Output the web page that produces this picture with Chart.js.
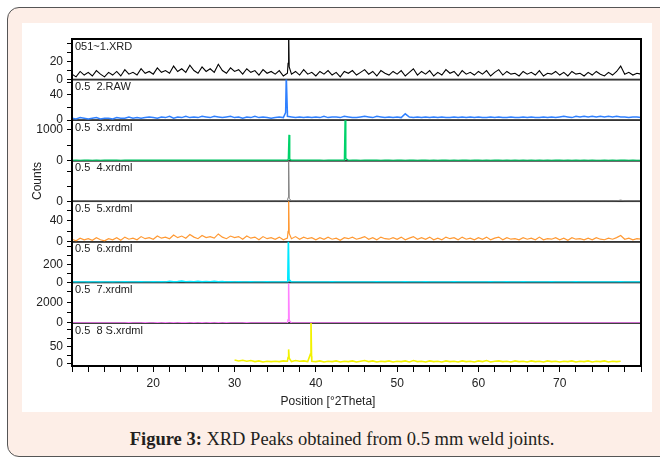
<!DOCTYPE html>
<html lang="en">
<head>
  <meta charset="UTF-8">
  <title>XRD Peaks</title>
  <style>
    body {
      margin: 0;
      background: #fff;
      width: 660px;
      height: 460px;
      overflow: hidden;
      position: relative;
      font-family: "Liberation Sans", Arial, sans-serif;
    }
    .card {
      position: absolute;
      left: 7px;
      top: 7px;
      width: 670px;
      height: 450px;
      box-sizing: border-box;
      border: 1.5px solid #555;
      border-radius: 12px;
      background: #fdeee7;
    }
    .plot {
      position: absolute;
      left: 22px;
      top: 23px;
      width: 630px;
      height: 389px;
      background: #fff;
    }
    .caption {
      position: absolute;
      left: 7px;
      width: 670px;
      top: 429px;
      text-align: center;
      font-family: "Liberation Serif", "DejaVu Serif", serif;
      font-size: 18.5px;
      color: #231f20;
    }
  </style>
</head>
<body>
  <div class="card"></div>
  <div class="plot"><canvas id="xrdChart"></canvas></div>
  <div class="caption"><b>Figure 3:</b> XRD Peaks obtained from 0.5 mm weld joints.</div>

  <script src="https://cdn.jsdelivr.net/npm/chart.js"></script>
  <script>
    // sample names shown in each panel
    const sampleNames = ['051~1.XRD', '0.5  2.RAW', '0.5  3.xrdml', '0.5  4.xrdml',
                         '0.5  5.xrdml', '0.5  6.xrdml', '0.5  7.xrdml', '0.5  8 S.xrdml'];

    // position grid [°2Theta], 0.5 step
    const angles = [
      10, 10.5, 11, 11.5, 12, 12.5, 13, 13.5, 14, 14.5,
      15, 15.5, 16, 16.5, 17, 17.5, 18, 18.5, 19, 19.5,
      20, 20.5, 21, 21.5, 22, 22.5, 23, 23.5, 24, 24.5,
      25, 25.5, 26, 26.5, 27, 27.5, 28, 28.5, 29, 29.5,
      30, 30.5, 31, 31.5, 32, 32.5, 33, 33.5, 34, 34.5,
      35, 35.5, 36, 36.5, 37, 37.5, 38, 38.5, 39, 39.5,
      40, 40.5, 41, 41.5, 42, 42.5, 43, 43.5, 44, 44.5,
      45, 45.5, 46, 46.5, 47, 47.5, 48, 48.5, 49, 49.5,
      50, 50.5, 51, 51.5, 52, 52.5, 53, 53.5, 54, 54.5,
      55, 55.5, 56, 56.5, 57, 57.5, 58, 58.5, 59, 59.5,
      60, 60.5, 61, 61.5, 62, 62.5, 63, 63.5, 64, 64.5,
      65, 65.5, 66, 66.5, 67, 67.5, 68, 68.5, 69, 69.5,
      70, 70.5, 71, 71.5, 72, 72.5, 73, 73.5, 74, 74.5,
      75, 75.5, 76, 76.5, 77, 77.5, 78, 78.5, 79, 79.5,
      80
    ];

    // background counts on the grid above
    const counts1 = [
      6, 3, 9, 5, 8, 4, 10, 6, 3, 8,
      5, 9, 4, 11, 6, 8, 5, 12, 7, 9,
      6, 13, 8, 10, 7, 15, 9, 12, 8, 16,
      10, 7, 14, 9, 12, 8, 17, 10, 7, 13,
      9, 11, 6, 12, 8, 10, 5, 11, 7, 9,
      6, 10, 4, 7, 6, 9, 5, 11, 6, 8,
      4, 9, 6, 10, 5, 8, 3, 9, 7, 10,
      5, 8, 11, 6, 9, 4, 10, 7, 5, 9,
      6, 10, 4, 8, 12, 5, 9, 6, 10, 4,
      8, 5, 11, 7, 9, 4, 10, 6, 8, 5,
      9, 6, 10, 4, 8, 11, 5, 9, 6, 7,
      4, 9, 6, 8, 5, 10, 4, 7, 6, 9,
      5, 8, 4, 9, 6, 7, 4, 8, 5, 9,
      6, 4, 8, 5, 9, 15, 6, 8, 5, 7,
      6
    ];
    const counts2 = [
      3, 2, 4, 3, 2, 3, 4, 2, 3, 3,
      2, 4, 3, 3, 5, 3, 4, 3, 4, 5,
      4, 3, 5, 4, 6, 3, 5, 4, 6, 4,
      5, 4, 6, 5, 4, 6, 5, 4, 5, 6,
      4, 5, 3, 5, 4, 6, 4, 5, 4, 3,
      4, 5, 4, 6, 5, 4, 5, 4, 5, 4,
      5, 4, 6, 4, 5, 5, 4, 6, 5, 4,
      4, 5, 6, 5, 4, 6, 5, 4, 5, 4,
      5, 4, 10, 5, 4, 5, 4, 5, 4, 5,
      4, 5, 4, 4, 5, 4, 5, 4, 5, 4,
      5, 4, 4, 5, 4, 5, 4, 4, 5, 4,
      4, 5, 4, 5, 4, 4, 5, 4, 5, 4,
      5, 6, 5, 4, 6, 5, 6, 5, 6, 5,
      6, 5, 6, 5, 6, 5, 5, 4, 5, 5,
      4
    ];
    const counts3 = [
      10, 12, 9, 11, 13, 10, 12, 9, 11, 12,
      11, 13, 10, 12, 14, 11, 13, 12, 14, 13,
      12, 14, 13, 15, 12, 16, 13, 15, 14, 12,
      14, 13, 15, 12, 14, 13, 16, 12, 14, 13,
      12, 13, 11, 14, 12, 13, 11, 12, 13, 11,
      12, 11, 13, 12, 11, 12, 13, 11, 12, 11,
      11, 12, 10, 12, 11, 13, 11, 12, 10, 11,
      12, 10, 11, 13, 11, 12, 10, 11, 12, 10,
      11, 12, 10, 11, 12, 10, 11, 12, 10, 11,
      10, 11, 12, 10, 11, 10, 12, 11, 10, 11,
      12, 10, 11, 10, 11, 12, 10, 11, 10, 11,
      10, 11, 10, 12, 10, 11, 10, 11, 10, 12,
      11, 10, 11, 10, 12, 10, 11, 10, 11, 10,
      10, 11, 10, 11, 10, 12, 11, 10, 11, 10,
      10
    ];
    const counts4 = [
      2, 1, 2, 1, 2, 2, 1, 2, 1, 2,
      1, 2, 2, 1, 2, 1, 2, 2, 1, 2,
      2, 1, 2, 2, 1, 2, 2, 1, 2, 2,
      1, 2, 2, 1, 2, 1, 2, 2, 1, 2,
      2, 1, 2, 1, 2, 2, 1, 2, 1, 2,
      1, 2, 1, 2, 1, 2, 1, 2, 2, 1,
      2, 1, 2, 1, 2, 1, 2, 1, 2, 1,
      2, 2, 1, 2, 1, 2, 1, 2, 1, 2,
      1, 2, 1, 2, 2, 1, 2, 1, 2, 1,
      2, 1, 2, 1, 2, 1, 2, 1, 2, 1,
      1, 2, 1, 2, 1, 2, 1, 2, 1, 2,
      2, 1, 2, 1, 2, 1, 2, 1, 2, 1,
      1, 2, 1, 2, 1, 2, 1, 2, 1, 2,
      2, 1, 2, 1, 3, 8, 2, 1, 2, 1,
      2
    ];
    const counts5 = [
      5, 2, 7, 4, 6, 3, 8, 4, 2, 6,
      4, 8, 3, 9, 5, 7, 4, 10, 6, 8,
      5, 11, 7, 9, 6, 13, 8, 11, 7, 14,
      9, 6, 12, 8, 10, 7, 15, 9, 6, 11,
      8, 10, 5, 11, 7, 9, 4, 10, 6, 8,
      5, 9, 4, 7, 6, 10, 5, 9, 6, 8,
      4, 8, 5, 9, 5, 7, 3, 8, 6, 9,
      5, 7, 10, 5, 8, 4, 9, 6, 5, 8,
      5, 9, 4, 7, 10, 5, 8, 5, 9, 4,
      7, 4, 9, 6, 8, 4, 9, 5, 7, 4,
      8, 5, 9, 4, 7, 9, 4, 8, 5, 6,
      4, 8, 5, 7, 4, 9, 4, 6, 5, 8,
      4, 7, 3, 8, 5, 6, 4, 7, 4, 8,
      5, 4, 7, 5, 8, 12, 5, 7, 4, 6,
      5
    ];
    const counts6 = [
      4, 3, 5, 4, 3, 4, 5, 3, 4, 4,
      3, 5, 4, 6, 4, 5, 4, 6, 5, 4,
      6, 4, 8, 5, 12, 6, 9, 14, 7, 10,
      8, 12, 6, 10, 7, 11, 6, 9, 5, 7,
      5, 6, 4, 5, 6, 4, 5, 4, 6, 5,
      4, 5, 4, 6, 5, 4, 5, 4, 5, 4,
      5, 4, 5, 4, 6, 4, 5, 4, 5, 4,
      4, 5, 4, 5, 4, 6, 4, 5, 4, 5,
      5, 4, 6, 4, 5, 4, 5, 6, 4, 5,
      4, 5, 4, 5, 6, 4, 5, 4, 5, 4,
      5, 4, 5, 6, 4, 5, 4, 6, 5, 4,
      4, 6, 5, 4, 5, 4, 5, 4, 6, 5,
      5, 4, 5, 4, 6, 5, 4, 5, 4, 5,
      4, 5, 4, 5, 4, 7, 5, 4, 5, 4,
      4
    ];
    const counts7 = [
      8, 10, 7, 9, 11, 8, 10, 7, 9, 10,
      9, 11, 8, 10, 12, 9, 11, 10, 12, 11,
      10, 12, 11, 13, 10, 14, 11, 13, 12, 10,
      12, 11, 13, 10, 12, 11, 14, 10, 12, 11,
      10, 11, 9, 12, 10, 11, 9, 10, 11, 9,
      10, 9, 11, 10, 9, 10, 11, 9, 10, 9,
      9, 10, 8, 10, 9, 11, 9, 10, 8, 9,
      10, 8, 9, 11, 9, 10, 8, 9, 10, 8,
      9, 10, 8, 9, 10, 8, 9, 10, 8, 9,
      8, 9, 10, 8, 9, 8, 10, 9, 8, 9,
      10, 8, 9, 8, 9, 10, 8, 9, 8, 9,
      8, 9, 8, 10, 8, 9, 8, 9, 8, 10,
      9, 8, 9, 8, 10, 8, 9, 8, 9, 8,
      8, 9, 8, 9, 8, 10, 9, 8, 9, 8,
      8
    ];
    const counts8 = [
      null, null, null, null, null, null, null, null, null, null,
      null, null, null, null, null, null, null, null, null, null,
      null, null, null, null, null, null, null, null, null, null,
      null, null, null, null, null, null, null, null, null, null,
      11, 8, 10, 7, 9, 6, 8, 5, 7, 6,
      7, 6, 8, 7, 6, 9, 7, 8, 6, 7,
      6, 8, 5, 7, 6, 8, 5, 7, 6, 8,
      5, 7, 9, 6, 8, 5, 7, 6, 8, 5,
      7, 6, 8, 5, 9, 6, 7, 5, 8, 6,
      7, 5, 8, 6, 7, 5, 8, 6, 7, 5,
      8, 6, 9, 5, 7, 8, 6, 7, 5, 8,
      6, 7, 5, 8, 6, 7, 5, 8, 6, 7,
      5, 7, 6, 8, 5, 7, 6, 8, 5, 7,
      6, 8, 5, 7, 6, 7, null, null, null, null,
      null
    ];

    // narrow reflections [position, counts]
    const peaks1 = [[36.58, 18], [36.65, 60], [36.72, 14]];
    const peaks2 = [[36.28, 12], [36.36, 72], [36.44, 72], [36.49, 15]];
    const peaks3 = [[36.62, 60], [36.7, 840], [36.78, 50], [43.52, 90], [43.6, 1340], [43.68, 70]];
    const peaks4 = [[36.58, 25], [36.65, 300], [36.72, 20]];
    const peaks5 = [[36.58, 20], [36.65, 90], [36.72, 16]];
    const peaks6 = [[36.55, 40], [36.62, 470], [36.7, 30]];
    const peaks7 = [[36.58, 300], [36.65, 3800], [36.72, 250]];
    const peaks8 = [[36.58, 18], [36.65, 42], [36.72, 16], [39.33, 28], [39.4, 130], [39.47, 22]];

    // y-axis ranges, tick marks and labelled ticks, top panel first
    const yMin = [0, 0, 0, 0, 0, 0, 0, -7];
    const yMax = [45, 64, 1320, 270, 77, 446, 3900, 120];
    const yTicks = [
      [0, 10, 20, 30, 40], [0, 20, 40, 60], [0, 500, 1000], [0, 100, 200],
      [0, 20, 40, 60], [0, 100, 200, 300, 400], [0, 1000, 2000, 3000], [0, 25, 50, 75, 100]
    ];
    const yTickLabels = [[0, 20], [0, 40], [0, 1000], [0], [0, 40], [0, 200], [0, 2000], [0, 50]];
    const xTickLabels = [20, 30, 40, 50, 60, 70];

    const lineColors = ['#000000', '#2f80ff', '#00d26a', '#808080', '#ff9933', '#00e8ff', '#ff80ff', '#f2f200'];
    const lineWidths = [1.1, 1.5, 1.5, 1, 1.2, 1.6, 1.5, 1.6];
    const allCounts = [counts1, counts2, counts3, counts4, counts5, counts6, counts7, counts8];
    const allPeaks = [peaks1, peaks2, peaks3, peaks4, peaks5, peaks6, peaks7, peaks8];
    const yIds = ['y1', 'y2', 'y3', 'y4', 'y5', 'y6', 'y7', 'y8'];

    function buildPoints(counts, peaks) {
      const pts = angles.map((a, i) => ({ x: a, y: counts[i] }));
      peaks.forEach(p => pts.push({ x: p[0], y: p[1] }));
      return pts.sort((a, b) => a.x - b.x);
    }

    const axisFont = { family: '"Liberation Sans", Arial, sans-serif', size: 12 };

    const scales = {
      x: {
        type: 'linear',
        position: 'bottom',
        min: 10,
        max: 80,
        ticks: {
          stepSize: 2,
          autoSkip: false,
          maxRotation: 0,
          padding: 4,
          color: '#222',
          font: axisFont,
          callback: v => xTickLabels.includes(v) ? v : ''
        },
        grid: { drawOnChartArea: false, tickLength: 6, color: '#000' },
        border: { display: true, color: '#000', width: 2 },
        afterFit: s => { s.height = 46; }
      }
    };

    // later scales are stacked on top, so add the bottom panel first
    for (let i = 7; i >= 0; i--) {
      scales[yIds[i]] = {
        type: 'linear',
        position: 'left',
        stack: 'xrd',
        stackWeight: i === 7 ? 1.06 : 1,
        offset: false,
        min: yMin[i],
        max: yMax[i],
        afterBuildTicks: s => { s.ticks = yTicks[i].map(v => ({ value: v })); },
        ticks: {
          autoSkip: false,
          padding: 4,
          color: '#222',
          font: axisFont,
          callback: v => yTickLabels[i].includes(v) ? v : ''
        },
        grid: { drawOnChartArea: false, tickLength: 5, color: '#000' },
        border: { display: true, color: '#000', width: 2 },
        title: {
          display: i === 3,
          text: 'Counts',
          color: '#222',
          font: axisFont,
          padding: { top: 8, bottom: 0 }
        },
        afterFit: s => { s.width = 50; }
      };
    }

    const panelPlugin = {
      id: 'panelPlugin',
      beforeDatasetsDraw(chart) {
        const { ctx, chartArea: a } = chart;
        ctx.save();
        ctx.strokeStyle = '#333';
        ctx.lineWidth = 1.5;
        yIds.forEach(id => {
          const s = chart.scales[id];
          ctx.strokeRect(a.left, s.top, a.right - a.left, s.bottom - s.top);
        });
        ctx.restore();
      },
      beforeDatasetDraw(chart, args) {
        const { ctx, chartArea: a } = chart;
        const s = args.meta.yScale;
        ctx.save();
        ctx.beginPath();
        ctx.rect(a.left, s.top - 1, a.right - a.left, s.bottom - s.top + 2);
        ctx.clip();
      },
      afterDatasetDraw(chart) {
        chart.ctx.restore();
      },
      afterDatasetsDraw(chart) {
        const { ctx, chartArea: a } = chart;
        ctx.save();
        ctx.fillStyle = '#222';
        ctx.font = '11px "Liberation Sans", Arial, sans-serif';
        ctx.textBaseline = 'top';
        yIds.forEach((id, i) => {
          ctx.fillText(sampleNames[i], a.left + 3, chart.scales[id].top + 2);
        });
        ctx.strokeStyle = '#000';
        ctx.lineWidth = 2;
        ctx.strokeRect(a.left, a.top, a.right - a.left, a.bottom - a.top);
        ctx.font = '12px "Liberation Sans", Arial, sans-serif';
        ctx.textAlign = 'center';
        ctx.textBaseline = 'middle';
        ctx.fillText('Position [°2Theta]', a.left + 256, a.bottom + 36);
        ctx.restore();
      }
    };

    new Chart(document.getElementById('xrdChart'), {
      type: 'line',
      data: {
        datasets: yIds.map((id, i) => ({
          label: sampleNames[i],
          data: buildPoints(allCounts[i], allPeaks[i]),
          yAxisID: id,
          borderColor: lineColors[i],
          borderWidth: lineWidths[i],
          pointRadius: 0,
          tension: 0,
          spanGaps: false
        }))
      },
      options: {
        responsive: true,
        maintainAspectRatio: false,
        animation: false,
        layout: { padding: { top: 16, right: 11, bottom: 0, left: 0 } },
        plugins: { legend: { display: false }, tooltip: { enabled: false } },
        scales: scales
      },
      plugins: [panelPlugin]
    });
  </script>
</body>
</html>
